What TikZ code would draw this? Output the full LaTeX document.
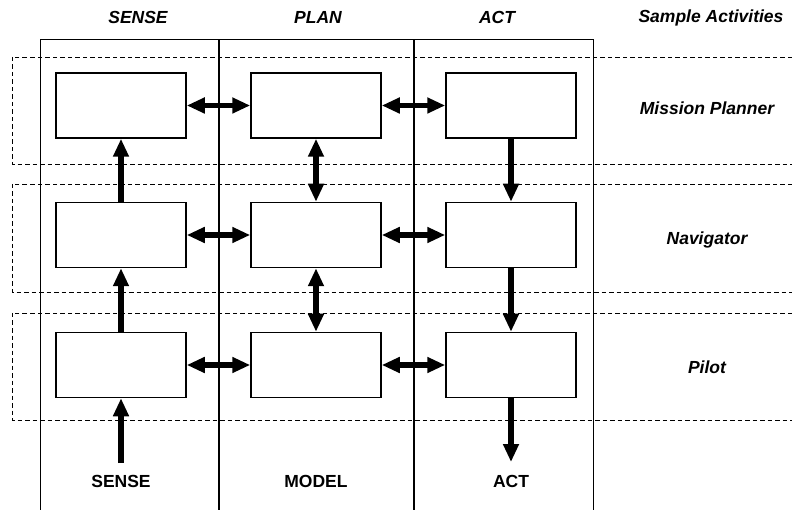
\documentclass[tikz,border=0pt]{standalone}
\usepackage{fontspec}
\setmainfont{Liberation Sans}
\usetikzlibrary{arrows.meta}

\tikzset{
  blk/.style={draw, fill=white, line width=1.5pt, minimum width=130pt, minimum height=65pt, inner sep=0pt},
  band/.style={dash pattern=on 4.5pt off 3pt, line width=0.8pt},
  arr/.style={line width=5.5pt, -{Triangle[length=18pt,width=15pt]}},
  darr/.style={line width=5.5pt, {Triangle[length=18pt,width=15pt]}-{Triangle[length=18pt,width=15pt]}},
  hdr/.style={font=\fontsize{17.5}{20}\selectfont\bfseries\itshape},
  lbl/.style={font=\fontsize{17.5}{20}\selectfont\bfseries}
}

\begin{document}
\begin{tikzpicture}[x=1pt, y=-1pt]
\useasboundingbox (0,0) rectangle (792,510);

% columns
\draw[line width=1pt] (40,510) -- (40,40) -- (593,40) -- (593,510);
\draw[line width=1.5pt] (219,40) -- (219,510);
\draw[line width=1.5pt] (414,40) -- (414,510);

% activity bands
\draw[band] (792,57) -| (12,164) -- (792,164);
\draw[band] (792,184) -| (12,292) -- (792,292);
\draw[band] (792,313) -| (12,420) -- (792,420);

% headers
\node[hdr] (hsense) at (138,17.5) {SENSE};
\node[hdr] (hplan) at (318,17.5) {PLAN};
\node[hdr] (hact) at (497,17.5) {ACT};
\node[hdr] (hsample) at (711,17.5) {Sample Activities};

\node[hdr] (mission) at (707,108) {Mission Planner};
\node[hdr] (navigator) at (707,240) {Navigator};
\node[hdr] (pilot) at (707,367) {Pilot};

% boxes
\node[blk] (s1) at (121,105.5) {};
\node[blk] (p1) at (316,105.5) {};
\node[blk] (a1) at (511,105.5) {};
\node[blk] (s2) at (121,235) {};
\node[blk] (p2) at (316,235) {};
\node[blk] (a2) at (511,235) {};
\node[blk] (s3) at (121,365) {};
\node[blk] (p3) at (316,365) {};
\node[blk] (a3) at (511,365) {};

\coordinate (sin) at (121,463);
\coordinate (aout) at (511,462);

% links
\draw[darr] (s1) -- (p1);
\draw[darr] (p1) -- (a1);
\draw[darr] (s2) -- (p2);
\draw[darr] (p2) -- (a2);
\draw[darr] (s3) -- (p3);
\draw[darr] (p3) -- (a3);
\draw[darr] (p1) -- (p2);
\draw[darr] (p2) -- (p3);

\draw[arr] (sin) -- (s3);
\draw[arr] (s3) -- (s2);
\draw[arr] (s2) -- (s1);
\draw[arr] (a1) -- (a2);
\draw[arr] (a2) -- (a3);
\draw[arr] (a3) -- (aout);

% bottom labels
\node[lbl] (lsense) at (121,481) {SENSE};
\node[lbl] (lmodel) at (316,481) {MODEL};
\node[lbl] (lact) at (511,481) {ACT};
\end{tikzpicture}
\end{document}
